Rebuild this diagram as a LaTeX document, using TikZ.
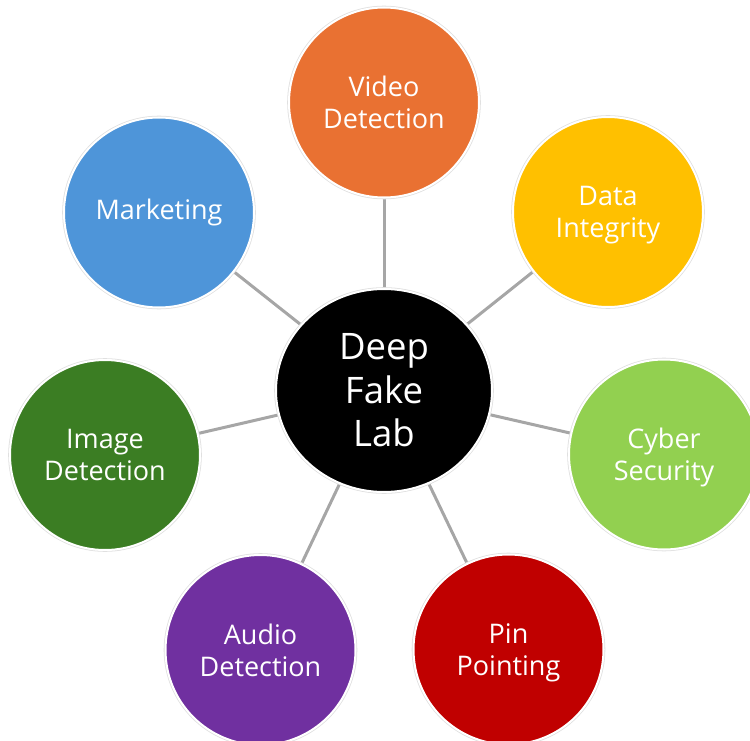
\documentclass[tikz,border=0pt]{standalone}
\usepackage{fontspec}
\setmainfont{Open Sans}
\usetikzlibrary{shapes.geometric,backgrounds}

\definecolor{cOrange}{HTML}{E97132}
\definecolor{cYellow}{HTML}{FFC000}
\definecolor{cLime}{HTML}{92D050}
\definecolor{cRed}{HTML}{C00000}
\definecolor{cPurple}{HTML}{7030A0}
\definecolor{cForest}{HTML}{3B7D23}
\definecolor{cSky}{HTML}{4E95D9}
\definecolor{spokeGray}{HTML}{A6A6A6}

\begin{document}
\begin{tikzpicture}[x=1pt,y=-1pt,
  spoke/.style={draw=spokeGray, line width=3pt},
  rimmed/.style={preaction={draw=black!12, line width=3.6pt}, draw=white, line width=2pt},
  bubble/.style={circle, rimmed, minimum size=190pt, inner sep=0pt,
    text=white, align=center, font=\fontsize{27}{32}\selectfont},
  hub/.style={ellipse, rimmed, fill=black, minimum width=216pt, minimum height=203pt,
    inner sep=0pt, text=white, align=center, font=\fontsize{36.5}{43.4}\selectfont}]

  \useasboundingbox (0,0) rectangle (750,741);
  \clip (0,0) rectangle (750,741);

  % central hub
  \node[hub] (lab) at (384,390.5) {Deep\\Fake\\Lab};

  % surrounding topics (descenders smashed so the lines stay centred)
  \node[bubble, fill=cOrange] (video)  at (384,102.5) {Video\\Detection};
  \node[bubble, fill=cYellow] (data)   at (608,212)   {Data\\\smash{Integrity}};
  \node[bubble, fill=cLime]   (cyber)  at (664,454.5) {Cyber\\\smash{Security}};
  \node[bubble, fill=cRed]    (pin)    at (508.5,649.5) {Pin\\\smash{Pointing}};
  \node[bubble, fill=cPurple] (audio)  at (260.5,650) {Audio\\Detection};
  \node[bubble, fill=cForest] (image)  at (105,455)   {Image\\\smash{Detection}};
  \node[bubble, fill=cSky]    (market) at (159,212.5) {Marketing};

  % spokes behind the circles
  \begin{pgfonlayer}{background}
    \foreach \t in {video,data,cyber,pin,audio,image,market}
      \draw[spoke] (lab.center) -- (\t.center);
  \end{pgfonlayer}
\end{tikzpicture}
\end{document}
